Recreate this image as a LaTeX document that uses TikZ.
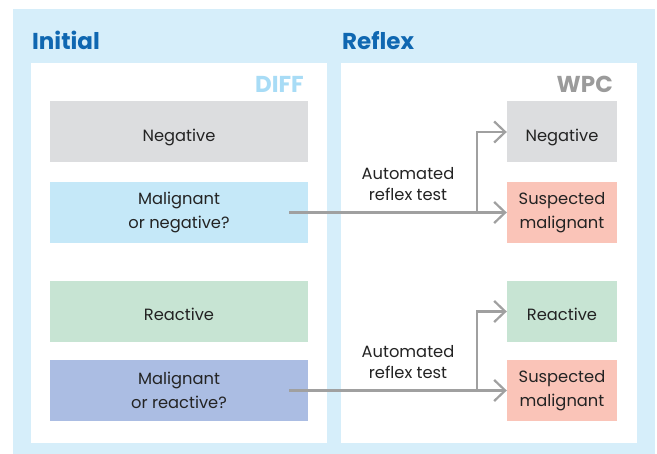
\documentclass[tikz,border=0pt]{standalone}
\usepackage{fontspec}
\setmainfont{Poppins}
\usepackage{tikz}
\usetikzlibrary{arrows.meta,positioning}
\definecolor{reflexbg}{HTML}{d6eefa}
\definecolor{headblue}{HTML}{0f67b1}
\definecolor{diffblue}{HTML}{a8dcf6}
\definecolor{wpcgray}{HTML}{9b9b9b}
\definecolor{negfill}{HTML}{dcdddf}
\definecolor{malnegfill}{HTML}{c5e8f8}
\definecolor{reactfill}{HTML}{c7e4d3}
\definecolor{malreactfill}{HTML}{abbde3}
\definecolor{suspfill}{HTML}{fac4b8}
\definecolor{txtgray}{HTML}{232323}
\definecolor{flowgray}{HTML}{a0a0a0}

\begin{document}
\begin{tikzpicture}[
    x=1pt, y=-1pt,
    cat/.style     = {rectangle, inner sep=0pt, text=txtgray, align=center,
                      font=\fontsize{16.3}{24}\selectfont},
    oneline/.style = {text height=18.5pt, text depth=0pt},
    diffbox/.style = {cat, minimum width=258pt, minimum height=61pt},
    wpcbox/.style  = {cat, minimum width=110pt, minimum height=61pt},
    heading/.style = {inner sep=0pt, text=headblue,
                      font=\fontsize{23}{28}\selectfont\bfseries},
    device/.style  = {inner sep=0pt, font=\fontsize{23}{28}\selectfont\bfseries},
    flow/.style    = {-{Straight Barb[length=11pt,width=21pt]}, line width=2.2pt,
                      draw=flowgray},
    testlbl/.style = {inner sep=0pt, text=txtgray, align=center,
                      font=\fontsize{16.3}{21.5}\selectfont},
]

  \useasboundingbox (0,0) rectangle (657,454);

  % panels
  \fill[reflexbg] (13,9) rectangle (655,454);
  \fill[white] (31,63) rectangle (327,443);
  \fill[white] (341,63) rectangle (637,443);

  \node[heading, anchor=base west] (initial) at (32,50)  {Initial};
  \node[heading, anchor=base west] (reflex)  at (342,50) {Reflex};
  \node[device, text=diffblue, anchor=base east] (diff) at (304,93) {DIFF};
  \node[device, text=wpcgray, anchor=base east]  (wpc)  at (613,93) {WPC};

  % DIFF categories
  \node[diffbox, oneline, fill=negfill]   (neg)    at (179,132)   {Negative};
  \node[diffbox, fill=malnegfill]         (malneg) at (179,212.5) {Malignant\\or negative?};
  \node[diffbox, oneline, fill=reactfill] (react)  at (179,311.5) {Reactive};
  \node[diffbox, fill=malreactfill]       (malreact) at (179,390.5) {Malignant\\or reactive?};

  % WPC results
  \node[wpcbox, oneline, fill=negfill]   (wneg)   at (562,132)   {Negative};
  \node[wpcbox, fill=suspfill]           (wsusp)  at (562,212.5) {Suspected\\malignant};
  \node[wpcbox, oneline, fill=reactfill] (wreact) at (562,311.5) {Reactive};
  \node[wpcbox, fill=suspfill]           (wsusp2) at (562,390.5) {Suspected\\malignant};

  % reflex arrows
  \coordinate (s1) at ([xshift=-19pt]malneg.east);
  \coordinate (b1) at (477,212.5);
  \draw[flow] (s1) -- (wsusp.west);
  \draw[flow] (b1) |- (wneg.west);
  \node[testlbl] (t1) at (408,184) {Automated\\reflex test};

  \coordinate (s2) at ([xshift=-19pt]malreact.east);
  \coordinate (b2) at (477,390.5);
  \draw[flow] (s2) -- (wsusp2.west);
  \draw[flow] (b2) |- (wreact.west);
  \node[testlbl] (t2) at (408,362) {Automated\\reflex test};

\end{tikzpicture}
\end{document}
